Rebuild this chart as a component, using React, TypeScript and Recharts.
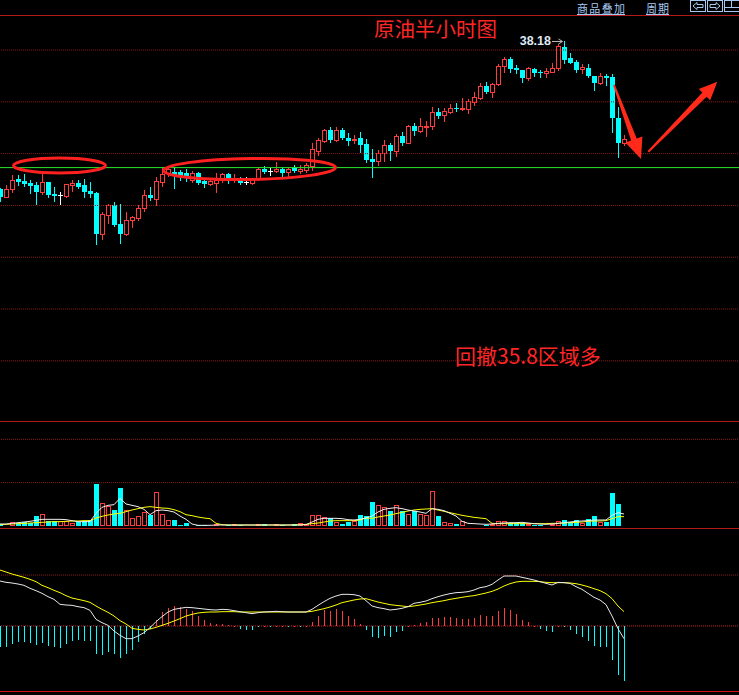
import React from 'react';
import { ComposedChart, Bar, Line, XAxis, YAxis, ReferenceLine, ReferenceDot } from 'recharts';

// ---------- data (crude oil, 30-minute candles) ----------
const openPrices = [
  35.32, 35.16, 35.32, 35.51, 35.47, 35.43, 35.39, 35.26, 35.45, 35.22,
  35.21, 35.18, 35.39, 35.43, 35.39, 35.28, 35.24, 34.45, 34.82, 35.01,
  34.64, 34.45, 34.72, 34.76, 34.95, 35.20, 35.12, 35.45, 35.63, 35.65,
  35.65, 35.63, 35.49, 35.63, 35.47, 35.41, 35.43, 35.49, 35.61, 35.49,
  35.49, 35.46, 35.43, 35.51, 35.70, 35.67, 35.67, 35.70, 35.65, 35.72,
  35.67, 35.68, 35.76, 36.05, 36.24, 36.46, 36.26, 36.46, 36.30, 36.26,
  36.30, 36.19, 35.90, 35.86, 36.01, 36.17, 36.05, 36.34, 36.21, 36.53,
  36.44, 36.52, 36.53, 36.80, 36.75, 36.80, 36.88, 36.86, 36.86, 37.00,
  37.07, 37.31, 37.19, 37.34, 37.69, 37.83, 37.65, 37.61, 37.46, 37.63,
  37.57, 37.56, 37.58, 37.65, 38.06, 37.85, 37.77, 37.63, 37.65, 37.50,
  37.36, 37.50, 37.48, 36.69, 36.21,
];
const highPrices = [
  35.34, 35.39, 35.59, 35.59, 35.61, 35.49, 35.45, 35.67, 35.46, 35.36,
  35.26, 35.41, 35.49, 35.49, 35.51, 35.45, 35.26, 34.87, 35.03, 35.07,
  35.03, 34.87, 34.79, 35.01, 35.30, 35.36, 35.55, 35.72, 35.76, 35.74,
  35.68, 35.70, 35.67, 35.65, 35.51, 35.51, 35.63, 35.63, 35.63, 35.61,
  35.55, 35.55, 35.53, 35.74, 35.76, 35.72, 35.84, 35.74, 35.72, 35.78,
  35.78, 35.82, 36.21, 36.30, 36.48, 36.51, 36.51, 36.49, 36.40, 36.36,
  36.42, 36.28, 36.09, 36.07, 36.26, 36.21, 36.38, 36.42, 36.55, 36.59,
  36.69, 36.63, 36.90, 36.88, 36.88, 36.96, 36.98, 37.07, 37.05, 37.19,
  37.36, 37.38, 37.36, 37.73, 37.86, 37.86, 37.71, 37.61, 37.67, 37.65,
  37.61, 37.65, 37.75, 38.12, 38.18, 37.94, 37.81, 37.73, 37.73, 37.50,
  37.56, 37.54, 37.54, 36.90, 36.36,
];
const lowPrices = [
  35.09, 35.16, 35.26, 35.39, 35.38, 35.24, 35.03, 35.22, 35.16, 35.09,
  35.03, 35.16, 35.28, 35.34, 35.16, 35.16, 34.26, 34.35, 34.66, 34.60,
  34.28, 34.43, 34.58, 34.72, 34.89, 35.11, 35.01, 35.38, 35.57, 35.34,
  35.49, 35.47, 35.45, 35.41, 35.36, 35.39, 35.26, 35.45, 35.43, 35.45,
  35.41, 35.41, 35.41, 35.49, 35.63, 35.59, 35.65, 35.55, 35.57, 35.65,
  35.63, 35.65, 35.68, 35.97, 36.22, 36.22, 36.24, 36.28, 36.17, 36.21,
  36.03, 35.84, 35.55, 35.78, 35.86, 35.88, 35.95, 36.17, 36.20, 36.36,
  36.42, 36.34, 36.48, 36.69, 36.63, 36.78, 36.82, 36.84, 36.78, 36.94,
  37.05, 37.17, 37.09, 37.32, 37.58, 37.58, 37.56, 37.38, 37.42, 37.50,
  37.48, 37.48, 37.57, 37.61, 37.75, 37.74, 37.58, 37.56, 37.48, 37.23,
  37.34, 37.32, 36.42, 35.94, 36.17,
];
const closePrices = [
  35.16, 35.32, 35.49, 35.45, 35.41, 35.38, 35.26, 35.45, 35.20, 35.18,
  35.21, 35.41, 35.43, 35.36, 35.26, 35.22, 34.45, 34.83, 35.01, 34.62,
  34.45, 34.72, 34.78, 34.95, 35.20, 35.14, 35.47, 35.61, 35.70, 35.59,
  35.57, 35.57, 35.63, 35.43, 35.41, 35.47, 35.49, 35.61, 35.49, 35.53,
  35.43, 35.46, 35.51, 35.70, 35.65, 35.67, 35.70, 35.63, 35.70, 35.67,
  35.70, 35.78, 36.09, 36.26, 36.46, 36.26, 36.46, 36.30, 36.24, 36.28,
  36.17, 35.88, 35.84, 36.01, 36.17, 36.05, 36.34, 36.21, 36.53, 36.44,
  36.53, 36.54, 36.80, 36.73, 36.82, 36.88, 36.86, 36.88, 37.02, 37.09,
  37.31, 37.19, 37.34, 37.69, 37.83, 37.63, 37.61, 37.46, 37.65, 37.56,
  37.55, 37.59, 37.65, 38.08, 37.81, 37.75, 37.61, 37.67, 37.50, 37.36,
  37.50, 37.46, 36.69, 36.21, 36.28,
];
// volume in hundreds of lots
const volume = [
  6, 4, 12, 9, 12, 9, 30, 36, 15, 15,
  15, 15, 9, 12, 15, 18, 126, 69, 60, 48,
  114, 48, 24, 30, 42, 33, 102, 36, 18, 18,
  3, 9, 3, 4, 2, 2, 6, 3, 2, 5,
  3, 2, 2, 6, 6, 2, 5, 2, 2, 6,
  9, 6, 33, 33, 27, 24, 12, 6, 12, 15,
  33, 30, 72, 62, 56, 44, 62, 44, 36, 44,
  36, 32, 105, 30, 11, 8, 6, 14, 3, 2,
  3, 4, 6, 14, 14, 9, 9, 9, 6, 2,
  3, 3, 5, 14, 18, 12, 18, 9, 21, 30,
  11, 12, 99, 66, 2,
];
const volMa5 = [
  6, 6, 8, 10, 12, 14, 17, 20, 20, 20,
  20, 19, 16, 13, 13, 13, 38, 56, 62, 64,
  83, 66, 62, 58, 50, 34, 46, 48, 46, 42,
  30, 20, 6, 2, 2, 2, 3, 3, 3, 3,
  3, 3, 3, 3, 3, 3, 3, 3, 3, 3,
  3, 4, 12, 20, 23, 23, 23, 22, 19, 18,
  20, 24, 30, 42, 50, 53, 55, 52, 48, 45,
  42, 38, 52, 50, 46, 38, 30, 14, 8, 7,
  6, 5, 6, 8, 9, 10, 10, 11, 9, 7,
  6, 5, 6, 8, 10, 12, 14, 15, 16, 18,
  18, 18, 32, 40, 36,
];
const volMa10 = [
  4, 5, 6, 7, 8, 9, 10, 11, 12, 13,
  13, 14, 15, 15, 16, 16, 24, 29, 33, 36,
  38, 43, 48, 52, 56, 58, 56, 54, 53, 49,
  43, 34, 31, 27, 24, 22, 8, 4, 3, 3,
  3, 3, 3, 3, 3, 3, 3, 3, 3, 3,
  4, 5, 7, 9, 12, 15, 16, 16, 16, 16,
  18, 24, 23, 27, 30, 33, 37, 41, 45, 48,
  50, 51, 52, 48, 44, 40, 36, 32, 29, 26,
  24, 22, 8, 7, 7, 7, 7, 7, 7, 7,
  7, 7, 8, 8, 9, 10, 11, 12, 14, 15,
  15, 16, 22, 28, 28,
];
// MACD values in thousandths
const macdHist = [
  -62, -62, -53, -47, -47, -50, -56, -50, -59, -62,
  -65, -53, -44, -41, -44, -44, -83, -86, -77, -83,
  -95, -83, -71, -47, -23, -8, 18, 43, 54, 60,
  57, 51, 45, 30, 18, 9, 6, 6, 2, 1,
  -8, -12, -12, -2, 1, -1, 1, 1, -1, 1,
  -2, 1, 12, 30, 48, 45, 51, 45, 30, 21,
  6, -12, -32, -35, -29, -32, -17, -14, 1, 3,
  10, 13, 24, 24, 27, 27, 24, 21, 21, 24,
  33, 30, 30, 45, 54, 48, 36, 18, 12, 1,
  -8, -14, -17, 1, -2, -11, -23, -32, -44, -59,
  -62, -62, -101, -146, -164,
];
const difValues = [
  135, 131, 129, 126, 122, 113, 106, 98, 88, 80,
  65, 63, 62, 58, 55, 47, 20, 10, 2, -15,
  -28, -38, -38, -30, -20, -5, 13, 28, 42, 50,
  53, 56, 55, 53, 51, 49, 48, 50, 49, 46,
  43, 40, 37, 40, 42, 43, 44, 43, 42, 42,
  42, 42, 50, 62, 73, 83, 90, 95, 95, 94,
  90, 76, 60, 55, 52, 48, 50, 53, 58, 68,
  71, 75, 82, 88, 93, 97, 100, 101, 103, 108,
  115, 118, 125, 138, 150, 150, 150, 146, 142, 138,
  133, 128, 123, 131, 130, 128, 118, 110, 98, 86,
  78, 64, 30, -8, -38,
];
const deaValues = [
  168, 162, 156, 151, 146, 140, 133, 122, 115, 107,
  100, 91, 84, 80, 76, 71, 60, 50, 41, 30,
  16, 6, -7, -10, -12, -9, -4, 2, 8, 15,
  22, 30, 35, 39, 41, 42, 42, 43, 43, 43,
  42, 42, 42, 42, 42, 42, 42, 42, 42, 42,
  42, 42, 44, 48, 52, 57, 63, 70, 74, 78,
  81, 82, 77, 72, 68, 64, 62, 60, 58, 60,
  63, 66, 70, 73, 76, 80, 83, 86, 89, 91,
  95, 99, 104, 111, 120, 127, 132, 134, 134, 134,
  133, 131, 130, 130, 130, 129, 127, 123, 118, 112,
  106, 97, 82, 60, 43,
];
const priceGrid = [38, 37, 36, 35, 34, 33, 32];
const supportPrice = 35.73;
const peakIndex = 94;
const peakPrice = 38.18;
const volumeGrid = [13000, 26000];
const macdGrid = [0.153];
const titleText = '原油半小时图';
const noteText = '回撤35.8区域多';
const menuItems = ['商品叠加', '周期'];

// ---------- layout / style ----------
const SLOTS = 124;
const CHART_W = SLOTS * 6;
const PRICE_DOMAIN: [number, number] = [30.838, 38.676];
const VOL_DOMAIN: [number, number] = [0, 31500];
const MACD_DOMAIN: [number, number] = [-0.198, 0.291];
const UP = '#ff3c3c';
const DOWN = '#00ffff';
const DOJI = '#ffffff';
const GRID = '#8c1616';
const FRAME = '#b01a1a';
const CJK = "'Noto Sans CJK SC', 'Noto Sans', sans-serif";

const rows = Array.from({ length: SLOTS }, (_, i) =>
  i < openPrices.length
    ? {
        i,
        o: openPrices[i],
        h: highPrices[i],
        l: lowPrices[i],
        c: closePrices[i],
        v: volume[i] * 100,
        ma5: volMa5[i] * 100,
        ma10: volMa10[i] * 100,
        hist: macdHist[i] / 1000,
        dif: difValues[i] / 1000,
        dea: deaValues[i] / 1000,
      }
    : { i }
);

function CandleShape(props: any) {
  const { x, y, width, height, payload } = props;
  if (!payload || payload.o == null || y == null || !isFinite(height)) return <g />;
  const { o, h, l, c } = payload;
  const cx = Math.round(x + width / 2);
  const span = h - l;
  const toY = (v: number) => y + ((h - v) / span) * height;
  const yH = Math.round(toY(h));
  const yL = Math.round(toY(l));
  const yO = Math.round(toY(o));
  const yC = Math.round(toY(c));
  const top = Math.min(yO, yC);
  const bot = Math.max(yO, yC);
  const wx = cx + 0.5;
  if (o === c) {
    return (
      <g>
        <line x1={wx} x2={wx} y1={yH} y2={yL + 1} stroke={DOJI} />
        <line x1={cx - 2} x2={cx + 3} y1={yO + 0.5} y2={yO + 0.5} stroke={DOJI} />
      </g>
    );
  }
  if (c > o) {
    return (
      <g>
        {top > yH && <line x1={wx} x2={wx} y1={yH} y2={top} stroke={UP} />}
        {yL > bot && <line x1={wx} x2={wx} y1={bot + 1} y2={yL + 1} stroke={UP} />}
        {bot - top >= 1 ? (
          <rect x={cx - 1.5} y={top + 0.5} width={4} height={bot - top} fill="none" stroke={UP} />
        ) : (
          <line x1={cx - 2} x2={cx + 3} y1={top + 0.5} y2={top + 0.5} stroke={UP} />
        )}
      </g>
    );
  }
  return (
    <g>
      <line x1={wx} x2={wx} y1={yH} y2={yL + 1} stroke={DOWN} />
      <rect x={cx - 2} y={top} width={5} height={Math.max(bot - top, 1)} fill={DOWN} />
    </g>
  );
}

function VolumeShape(props: any) {
  const { x, y, width, height, payload } = props;
  if (!payload || payload.v == null || y == null) return <g />;
  const cx = Math.round(x + width / 2);
  const a = Math.round(y);
  const b = Math.round(y + height);
  const top = Math.min(a, b);
  const bot = Math.max(a, b);
  if (payload.c >= payload.o) {
    return <rect x={cx - 1.5} y={top + 0.5} width={4} height={Math.max(bot - top - 1, 0)} fill="none" stroke={UP} />;
  }
  return <rect x={cx - 2} y={top} width={5} height={Math.max(bot - top, 1)} fill={DOWN} />;
}

function MacdShape(props: any) {
  const { x, y, width, height, payload } = props;
  if (!payload || payload.hist == null || y == null) return <g />;
  const cx = Math.round(x + width / 2);
  const a = Math.round(y);
  const b = Math.round(y + height);
  const top = Math.min(a, b);
  const bot = Math.max(a, b);
  return <rect x={cx} y={top} width={1} height={Math.max(bot - top, 1)} fill={payload.hist >= 0 ? UP : DOWN} />;
}

function PeakLabel(props: any) {
  const { cx, cy } = props;
  if (cx == null || cy == null) return <g />;
  const ly = Math.round(cy) + 0.5;
  const x2 = cx - 1.5;
  return (
    <g>
      <text
        x={cx - 13}
        y={cy + 4.5}
        textAnchor="end"
        fontSize={12.5}
        fontWeight="bold"
        fill="#dfe9f5"
        fontFamily="'Liberation Sans', Arial, sans-serif"
      >
        {peakPrice.toFixed(2)}
      </text>
      <line x1={cx - 12} y1={ly} x2={x2} y2={ly} stroke="#b8b8b8" />
      <path d={`M${x2 - 4},${ly - 2.5} L${x2},${ly} L${x2 - 4},${ly + 2.5}`} stroke="#b8b8b8" fill="none" />
    </g>
  );
}

function Panel({ top, height, children }: { top: number; height: number; children: React.ReactNode }) {
  return <div style={{ position: 'absolute', left: -3, top, width: CHART_W, height }}>{children}</div>;
}

export default function App() {
  const menuColor = '#a6c8f2';
  return (
    <div style={{ position: 'absolute', left: 0, top: 0, width: 739, height: 695, background: '#000', overflow: 'hidden' }}>
      {/* price panel */}
      <Panel top={15} height={406}>
        <ComposedChart width={CHART_W} height={406} data={rows} margin={{ top: 0, right: 0, bottom: 0, left: 0 }}>
          <XAxis dataKey="i" hide />
          <YAxis hide domain={PRICE_DOMAIN} allowDataOverflow />
          {priceGrid.map((p) => (
            <ReferenceLine key={p} y={p} stroke={GRID} strokeDasharray="1 1" />
          ))}
          <ReferenceLine y={supportPrice} stroke="#2ae62a" />
          <Bar
            dataKey={(d: any) => (d.h == null ? null : [d.l, d.h])}
            shape={CandleShape}
            isAnimationActive={false}
          />
          <ReferenceDot x={peakIndex} y={peakPrice} r={0} shape={PeakLabel} ifOverflow="visible" />
        </ComposedChart>
      </Panel>

      {/* volume panel */}
      <Panel top={421} height={105}>
        <ComposedChart width={CHART_W} height={105} data={rows} margin={{ top: 0, right: 0, bottom: 0, left: 0 }}>
          <XAxis dataKey="i" hide />
          <YAxis hide domain={VOL_DOMAIN} allowDataOverflow />
          {volumeGrid.map((v) => (
            <ReferenceLine key={v} y={v} stroke={GRID} strokeDasharray="1 1" />
          ))}
          <Bar dataKey="v" shape={VolumeShape} isAnimationActive={false} />
          <Line dataKey="ma10" stroke="#ffff00" strokeWidth={1} dot={false} activeDot={false} isAnimationActive={false} />
          <Line dataKey="ma5" stroke="#f0f0f0" strokeWidth={1} dot={false} activeDot={false} isAnimationActive={false} />
        </ComposedChart>
      </Panel>

      {/* MACD panel */}
      <Panel top={529} height={163}>
        <ComposedChart width={CHART_W} height={163} data={rows} margin={{ top: 0, right: 0, bottom: 0, left: 0 }}>
          <XAxis dataKey="i" hide />
          <YAxis hide domain={MACD_DOMAIN} allowDataOverflow />
          {macdGrid.map((v) => (
            <ReferenceLine key={v} y={v} stroke={GRID} strokeDasharray="1 1" />
          ))}
          <ReferenceLine y={0} stroke="#d42020" strokeDasharray="1 1" />
          <Bar dataKey="hist" shape={MacdShape} isAnimationActive={false} />
          <Line dataKey="dea" stroke="#ffff00" strokeWidth={1} dot={false} activeDot={false} isAnimationActive={false} />
          <Line dataKey="dif" stroke="#e8e8e8" strokeWidth={1} dot={false} activeDot={false} isAnimationActive={false} />
        </ComposedChart>
      </Panel>

      {/* frame, titles and hand-drawn annotations */}
      <svg width={739} height={695} style={{ position: 'absolute', left: 0, top: 0, pointerEvents: 'none' }}>
        <line x1={0} x2={739} y1={15.5} y2={15.5} stroke={FRAME} />
        <line x1={0} x2={739} y1={421.5} y2={421.5} stroke={FRAME} />
        <line x1={0} x2={739} y1={528.5} y2={528.5} stroke={FRAME} />
        <line x1={0} x2={739} y1={691.5} y2={691.5} stroke="#d01414" />

        {/* top-right menu */}
        <text x={577} y={13} fontSize={11} fill={menuColor} fontFamily={CJK} textLength={48}>{menuItems[0]}</text>
        <line x1={577} x2={625} y1={14.5} y2={14.5} stroke={menuColor} />
        <text x={646} y={13} fontSize={11} fill={menuColor} fontFamily={CJK} textLength={23}>{menuItems[1]}</text>
        <line x1={646} x2={669} y1={14.5} y2={14.5} stroke={menuColor} />
        <rect x={690.5} y={0.5} width={15} height={11} fill="none" stroke={menuColor} />
        <path d="M693,6 L697,2.5 L697,4.5 L703,4.5 L703,7.5 L697,7.5 L697,9.5 Z" fill="none" stroke={menuColor} />
        <rect x={707.5} y={0.5} width={15} height={11} fill="none" stroke={menuColor} />
        <path d="M720,6 L716,2.5 L716,4.5 L710,4.5 L710,7.5 L716,7.5 L716,9.5 Z" fill="none" stroke={menuColor} />
        <rect x={724.5} y={0.5} width={15} height={11} fill="none" stroke={menuColor} />
        <line x1={724} x2={739} y1={7.5} y2={7.5} stroke={menuColor} />
        <line x1={731.5} x2={731.5} y1={0} y2={7} stroke={menuColor} />

        <text x={374} y={37} fontSize={20.5} fill="#ff2626" fontFamily={CJK}>{titleText}</text>
        <text x={455} y={364} fontSize={21} fill="#ff2626" fontFamily={CJK}>{noteText}</text>

        <ellipse cx={59.5} cy={165.5} rx={46} ry={7.5} fill="none" stroke="#ff2020" strokeWidth={3} />
        <ellipse
          cx={249.5}
          cy={169}
          rx={86}
          ry={10.5}
          fill="none"
          stroke="#ff2020"
          strokeWidth={3}
          transform="rotate(-1 249.5 169)"
        />

        <polygon
          points="613.1,85.3 631.1,140.5 625.4,142.6 641,159 642.4,136.4 636.7,138.5 614.9,84.7"
          fill="#ff2a1a"
        />
        <polygon
          points="647.6,151 702.4,92.6 698.8,89.1 717.3,81.7 710.2,100.3 706.6,96.8 649,152.4"
          fill="#ff2a1a"
        />
      </svg>
    </div>
  );
}
